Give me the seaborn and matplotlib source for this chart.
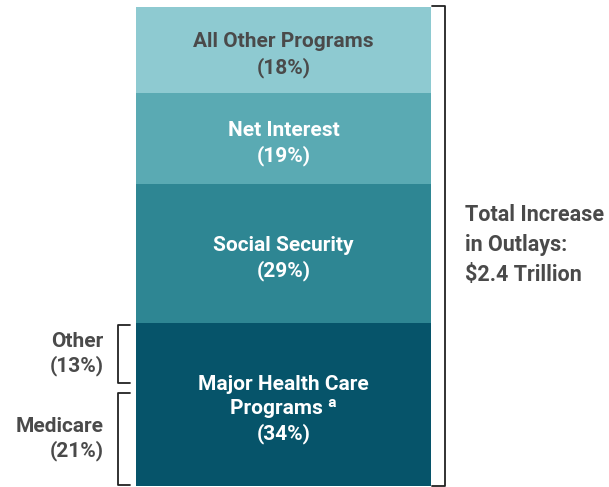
import matplotlib
matplotlib.use("Agg")
import matplotlib.pyplot as plt
import seaborn as sns
import pandas as pd

# shares of the total increase in outlays, bottom to top
programs = ["Major Health Care\nPrograms \u1d43", "Social Security", "Net Interest", "All Other Programs"]
shares = [34, 29, 19, 18]
colors = ["#06546a", "#2e8693", "#5aaab3", "#8ecad1"]
text_colors = ["white", "white", "white", "#4a4a4a"]

# split of the health care segment
health_parts = ["Medicare", "Other"]
health_shares = [21, 13]

total_label = "Total Increase\nin Outlays:\n$2.4 Trillion"

sns.set_theme(style="white")
plt.rcParams["font.family"] = ["Roboto", "DejaVu Sans"]
plt.rcParams["font.weight"] = "bold"

fig = plt.figure(figsize=(6.09, 4.87), dpi=100)
ax = fig.add_axes([136 / 609, 1 - 486 / 487, 295 / 609, 479 / 487])

# stacked bar: draw cumulative totals from the top down
tops = pd.Series(shares).cumsum().tolist()
for i in reversed(range(len(shares))):
    df = pd.DataFrame({"x": ["all"], "y": [tops[i]]})
    sns.barplot(data=df, x="x", y="y", color=colors[i], width=1.0,
                saturation=1, ax=ax, linewidth=0)

bottoms = [0] + tops[:-1]
for name, s, b, tc in zip(programs, shares, bottoms, text_colors):
    label = f"{name}\n({s}%)"
    ax.text(0, b + s / 2 - 1.0, label, ha="center", va="center", color=tc,
            fontsize=15, fontweight="bold", linespacing=1.35)

ax.set_xlim(-0.5, 0.5)
ax.set_ylim(0, 100)
ax.set_axis_off()

trans = ax.get_yaxis_transform()
bk = dict(color="#222222", lw=1.3, clip_on=False, transform=trans)

# right bracket around the whole bar
ax.plot([1.003, 1.047, 1.047, 1.003], [100.2, 100.2, 0, 0], **bk)
ax.text(1.115, 50.3, total_label, transform=trans, ha="left", va="center",
        color="#4a4a4a", fontsize=15.5, fontweight="bold", linespacing=1.45)

# left brackets for health care split
lo = 0
gaps = [(0.2, 1.5), (0.4, 0.3)]
for part, s, (g0, g1) in zip(health_parts, health_shares, gaps):
    y0, y1 = lo + g0, lo + s - g1
    ax.plot([-0.02, -0.061, -0.061, -0.02], [y0, y0, y1, y1], **bk)
    ax.text(-0.11, (y0 + y1) / 2, f"{part}\n({s}%)", transform=trans,
            ha="right", va="center", color="#4a4a4a", fontsize=15,
            fontweight="bold", linespacing=1.25)
    lo += s

fig.savefig("out.png", dpi=100)
